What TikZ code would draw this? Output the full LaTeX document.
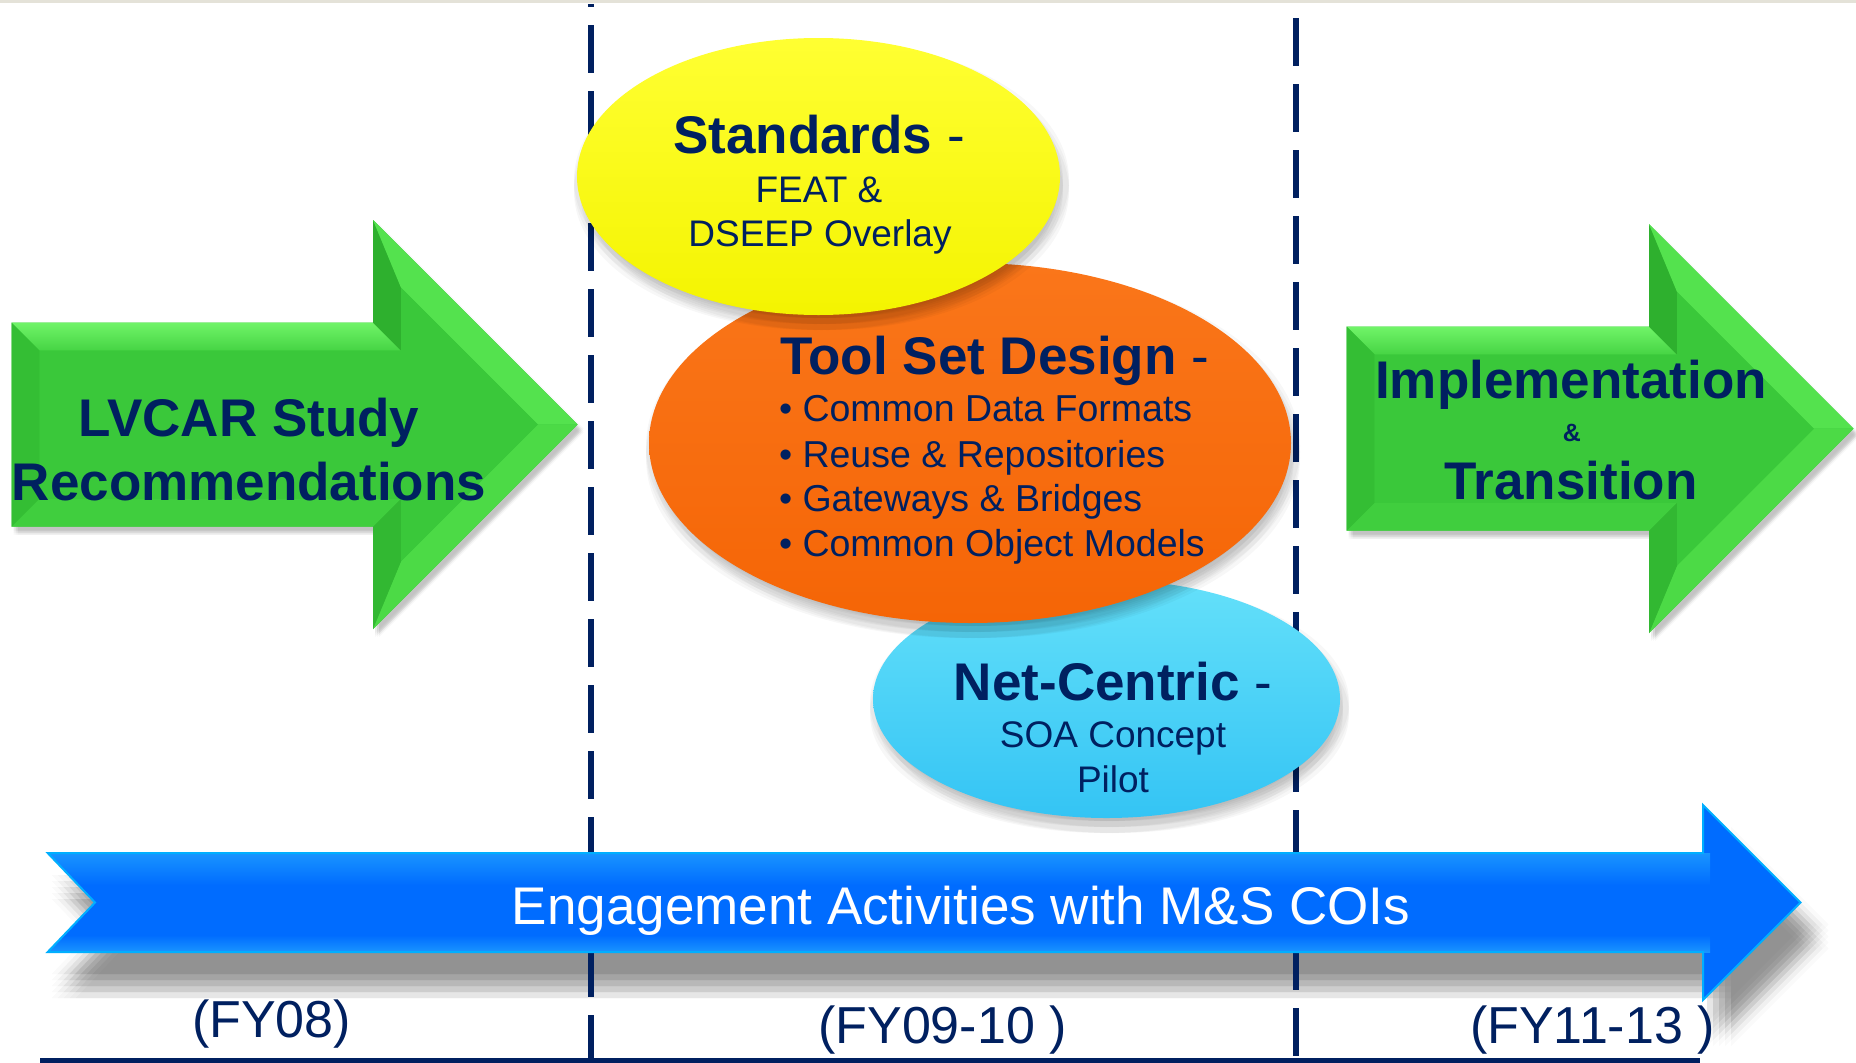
\documentclass[tikz,border=0pt]{standalone}
\usepackage{fontspec}
\setmainfont{Liberation Sans}
\usetikzlibrary{shapes.geometric}
\definecolor{navy}{RGB}{0,32,96}
\definecolor{gmain}{RGB}{58,200,58}
\definecolor{gtop}{RGB}{112,244,104}
\definecolor{gtopb}{RGB}{70,212,68}
\definecolor{gupback}{RGB}{46,176,46}
\definecolor{gupslant}{RGB}{84,226,78}
\definecolor{glowslant}{RGB}{76,218,70}
\definecolor{glowback}{RGB}{50,184,50}
\definecolor{gbottom}{RGB}{64,206,62}
\definecolor{gleft}{RGB}{52,190,52}
\definecolor{bmain}{RGB}{0,108,255}
\definecolor{bedge}{RGB}{0,175,255}
\definecolor{blite}{RGB}{25,148,255}
\definecolor{ytop}{RGB}{255,255,50}
\definecolor{ybot}{RGB}{244,244,0}
\definecolor{otop}{RGB}{250,118,26}
\definecolor{omid}{RGB}{248,106,10}
\definecolor{obot}{RGB}{245,101,6}
\definecolor{ctop}{RGB}{100,224,250}
\definecolor{cmid}{RGB}{58,201,245}
\definecolor{cbot}{RGB}{52,196,244}
\definecolor{topgray}{RGB}{228,226,216}

\newcommand\fsz[1]{\fontsize{#1}{#1}\selectfont}

% green bevelled arrow: #1 left x, #2 centre y, #3 head x, #4 name prefix
\newcommand\grarrow[4]{%
  \pgfmathsetmacro\gaXl{#1}%
  \pgfmathsetmacro\gaCy{#2}%
  \pgfmathsetmacro\gaXh{#3}%
  \pgfmathsetmacro\gaBh{102}%
  \pgfmathsetmacro\gaHh{204.5}%
  \pgfmathsetmacro\gaBv{28}%
  \pgfmathsetmacro\gaBs{28*1.41421}%
  \def\gaOuter{(\gaXl,\gaCy-\gaBh) -- (\gaXh,\gaCy-\gaBh) -- (\gaXh,\gaCy-\gaHh) -- (\gaXh+\gaHh,\gaCy) -- (\gaXh,\gaCy+\gaHh) -- (\gaXh,\gaCy+\gaBh) -- (\gaXl,\gaCy+\gaBh) -- cycle}%
  \foreach \dx in {-2,0,2}{\foreach \dy in {-2,0,2}{%
    \fill[black,opacity=0.028,shift={(4+\dx,6+\dy)}] \gaOuter;}}%
  \coordinate (#4A) at (\gaXl,\gaCy-\gaBh);
  \coordinate (#4B) at (\gaXh,\gaCy-\gaBh);
  \coordinate (#4C) at (\gaXh,\gaCy-\gaHh);
  \coordinate (#4D) at (\gaXh+\gaHh,\gaCy);
  \coordinate (#4E) at (\gaXh,\gaCy+\gaHh);
  \coordinate (#4F) at (\gaXh,\gaCy+\gaBh);
  \coordinate (#4G) at (\gaXl,\gaCy+\gaBh);
  \coordinate (#4a) at (\gaXl+\gaBv,\gaCy-\gaBh+\gaBv);
  \coordinate (#4b) at (\gaXh+\gaBv,\gaCy-\gaBh+\gaBv);
  \coordinate (#4c) at (\gaXh+\gaBv,\gaCy-\gaHh+\gaBv+\gaBs);
  \coordinate (#4d) at (\gaXh+\gaHh-\gaBs,\gaCy);
  \coordinate (#4e) at (\gaXh+\gaBv,\gaCy+\gaHh-\gaBv-\gaBs);
  \coordinate (#4f) at (\gaXh+\gaBv,\gaCy+\gaBh-\gaBv);
  \coordinate (#4g) at (\gaXl+\gaBv,\gaCy+\gaBh-\gaBv);
  \fill[gmain] \gaOuter;
  \shade[top color=gtop,bottom color=gtopb] (#4A) -- (#4B) -- (#4b) -- (#4a) -- cycle;
  \fill[gupback] (#4B) -- (#4C) -- (#4c) -- (#4b) -- cycle;
  \fill[gupslant] (#4C) -- (#4D) -- (#4d) -- (#4c) -- cycle;
  \fill[glowslant] (#4D) -- (#4E) -- (#4e) -- (#4d) -- cycle;
  \fill[glowback] (#4E) -- (#4F) -- (#4f) -- (#4e) -- cycle;
  \fill[gbottom] (#4F) -- (#4G) -- (#4g) -- (#4f) -- cycle;
  \fill[gleft] (#4G) -- (#4A) -- (#4a) -- (#4g) -- cycle;
  \fill[gmain] (#4a) -- (#4b) -- (#4c) -- (#4d) -- (#4e) -- (#4f) -- (#4g) -- cycle;
}

\tikzset{
  lbl/.style={inner sep=0pt, outer sep=0pt, text=navy, anchor=base},
  lblw/.style={inner sep=0pt, outer sep=0pt, text=navy, anchor=base west},
  vdash/.style={draw=navy, line width=6pt, dash pattern=on 48pt off 18pt},
  blob/.style={ellipse, inner sep=0pt, outer sep=0pt, shading=axis},
}

\begin{document}
\begin{tikzpicture}[x=1pt,y=-1pt]
\useasboundingbox (0,0) rectangle (1856,1063);
\fill[white] (0,0) rectangle (1856,1063);
\fill[topgray] (0,0) rectangle (1856,3);

% blue arrow shadow
\def\bluepath{(47.7,853) -- (1703,853) -- (1703,805) -- (1800.5,902.5) -- (1703,1000) -- (1703,952) -- (47.7,952) -- (95,902.5) -- cycle}
\foreach \dx in {-12,-6,0,6,12}{\foreach \dy in {-12,-6,0,6,12}{%
  \fill[black,opacity=0.02,shift={(16+\dx,34+\dy)}] \bluepath;}}

% timeline lines
\draw[vdash, dash phase=45pt] (590.5,4) -- (590.5,1063);
\draw[vdash] (1296,18) -- (1296,1057);
\draw[navy, line width=5pt] (40,1060.5) -- (1700,1060.5);

% blue arrow
\fill[bmain] \bluepath;
\begin{scope}
  \clip \bluepath;
  \shade[top color=blite, bottom color=bmain] (40,853) rectangle (1710,885);
  \shade[top color=bmain, bottom color=blite] (40,935) rectangle (1710,952);
\end{scope}
\draw[bedge, line width=2pt, line join=miter] \bluepath;
\node[inner sep=0pt, anchor=base, text=white] (eng) at (961,924) {\fsz{53}Engagement Activities with M\&S COIs};

% green arrows
\grarrow{11.5}{424.5}{373}{L}
\grarrow{1346.7}{428.7}{1649}{R}
\node[lbl] (lv1) at (249,436) {\fsz{53}\bfseries LVCAR Study};
\node[lbl] (lv2) at (249,500) {\fsz{53}\bfseries Recommendations};
\node[lbl] (im1) at (1571,398) {\fsz{53}\bfseries Implementation};
\node[lbl] (im2) at (1572,441) {\fsz{25}\bfseries \&};
\node[lbl] (im3) at (1571,499) {\fsz{53}\bfseries Transition};

% cyan ellipse
\foreach \dx in {-6,0,6}{\foreach \dy in {-6,0,6}{%
  \fill[black,opacity=0.03] (1106.5+3+\dx,699+9+\dy) ellipse [x radius=233.5, y radius=119];}}
\node[blob, minimum width=467pt, minimum height=238pt, top color=ctop, middle color=cmid, bottom color=cbot] (net) at (1106.5,699) {};

% orange ellipse
\foreach \dx in {-6,0,6}{\foreach \dy in {-6,0,6}{%
  \fill[black,opacity=0.03] (970+3+\dx,443+9+\dy) ellipse [x radius=321, y radius=180];}}
\node[blob, minimum width=642pt, minimum height=360pt, top color=otop, middle color=omid, bottom color=obot] (tool) at (970,443) {};

% yellow ellipse
\foreach \dx in {-6,0,6}{\foreach \dy in {-6,0,6}{%
  \fill[black,opacity=0.03] (818.5+3+\dx,176.5+9+\dy) ellipse [x radius=241.5, y radius=138.5];}}
\node[blob, minimum width=483pt, minimum height=277pt, top color=ytop, bottom color=ybot] (std) at (818.5,176.5) {};

% ellipse texts
\node[lbl] (st1) at (819,153) {\fsz{53}{\bfseries Standards} -};
\node[lbl] (st2) at (819,202) {\fsz{37}FEAT \&};
\node[lbl] (st3) at (820,246) {\fsz{37}DSEEP Overlay};

\node[lblw] (to1) at (780,374) {\fsz{53}{\bfseries Tool Set Design} -};
\node[lblw] (to2) at (779,421.7) {\fsz{37.5}• Common Data Formats};
\node[lblw] (to3) at (779,467.3) {\fsz{37.5}• Reuse \& Repositories};
\node[lblw] (to4) at (779,511.7) {\fsz{37.5}• Gateways \& Bridges};
\node[lblw] (to5) at (779,556) {\fsz{37.5}• Common Object Models};

\node[lbl] (nc1) at (1113,700) {\fsz{53}{\bfseries Net-Centric} -};
\node[lbl] (nc2) at (1113,747) {\fsz{37}SOA Concept};
\node[lbl] (nc3) at (1113,792) {\fsz{37}Pilot};

% fiscal year labels
\node[lbl] (fy1) at (271.5,1037) {\fsz{52}(FY08)};
\node[lbl] (fy2) at (942.5,1043) {\fsz{52}(FY09-10 )};
\node[lbl] (fy3) at (1592.5,1043) {\fsz{52}(FY11-13 )};
\end{tikzpicture}
\end{document}
